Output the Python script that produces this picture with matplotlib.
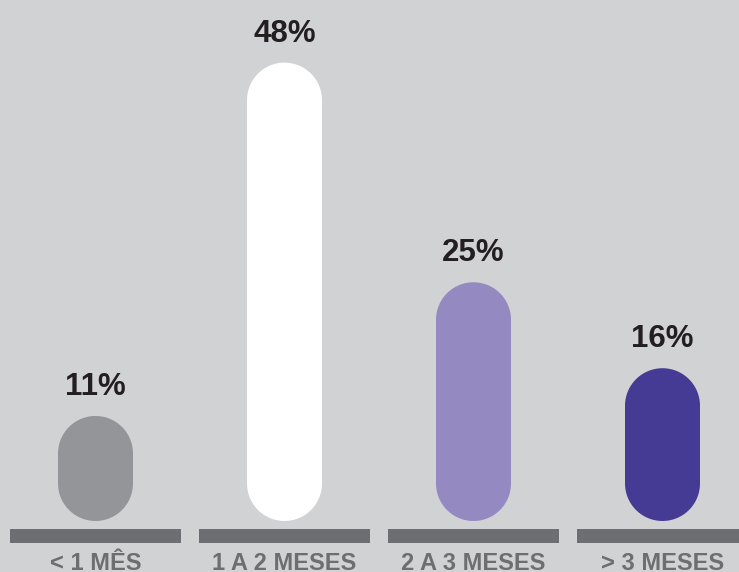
import matplotlib
matplotlib.use("Agg")
import matplotlib.pyplot as plt
import numpy as np
from matplotlib.patches import Polygon

# data
categories = ["< 1 MÊS", "1 A 2 MESES", "2 A 3 MESES", "> 3 MESES"]
values = [11, 48, 25, 16]
labels = ["11%", "48%", "25%", "16%"]
colors = ["#939598", "#ffffff", "#9489c1", "#453a94"]

bg = "#d1d2d4"
base_col = "#6d6e71"

W, H = 739, 572
fig = plt.figure(figsize=(W / 100, H / 100), dpi=100, facecolor=bg)
ax = fig.add_axes([0, 0, 1, 1])
ax.set_facecolor(bg)

# pixel scales
px_x = 189.0        # px per category step
px_y = 9.55         # px per percent
x0_px = 95.5        # center of first category
y0_px = 51          # bar bottom from figure bottom

ax.set_xlim(-x0_px / px_x, (W - x0_px) / px_x)
ax.set_ylim(-y0_px / px_y, (H - y0_px) / px_y)
ax.axis("off")

bar_px = 75
rx = bar_px / 2 / px_x
ry = bar_px / 2 / px_y


def pill(xc, top):
    # rounded bar: half circles at both ends (true arcs in pixel space)
    t_top = np.linspace(0, np.pi, 40)
    t_bot = np.linspace(np.pi, 2 * np.pi, 40)
    xs = np.concatenate([xc + rx * np.cos(t_top), xc + rx * np.cos(t_bot)])
    ys = np.concatenate([top - ry + ry * np.sin(t_top), ry + ry * np.sin(t_bot)])
    return np.column_stack([xs, ys])


for i, (v, c) in enumerate(zip(values, colors)):
    ax.add_patch(Polygon(pill(i, v), closed=True, facecolor=c, edgecolor="none"))
    ax.text(i, v + 21 / px_y, labels[i], ha="center", va="baseline",
            fontsize=22.5, fontweight="bold", color="#231f20",
            family=["Liberation Sans", "DejaVu Sans"])

# grey base segments
seg_bottom = (29 - y0_px) / px_y
seg_h = 14 / px_y
ax.bar(range(len(categories)), [seg_h] * len(categories), width=171 / px_x,
       bottom=seg_bottom, color=base_col, linewidth=0)

for i, cat in enumerate(categories):
    ax.text(i, (H - 552 - y0_px) / px_y, cat, ha="center", va="top",
            fontsize=17, fontweight="bold", color=base_col,
            family=["Liberation Sans", "DejaVu Sans"])

fig.savefig("out.png", dpi=100, facecolor=bg)
